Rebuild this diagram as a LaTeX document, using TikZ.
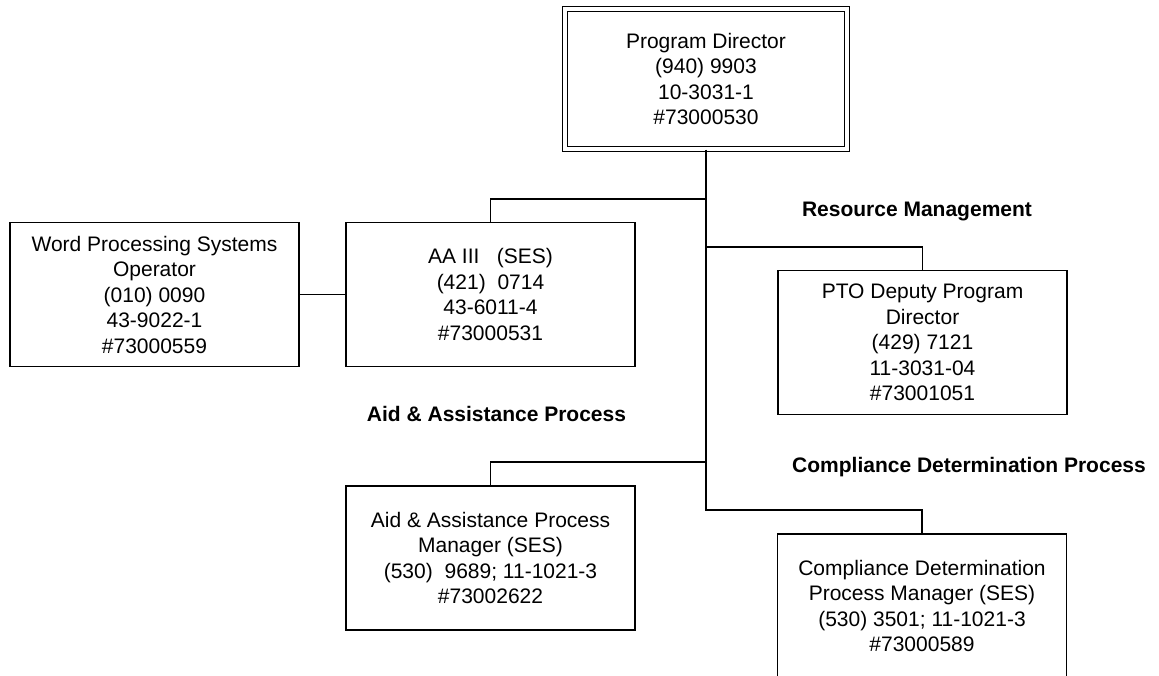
\documentclass[tikz,border=0pt]{standalone}
\usepackage{fontspec}
\setmainfont{Liberation Sans}
\begin{document}
\begin{tikzpicture}[x=1pt,y=-1pt,
  every node/.style={font=\fontsize{21}{25.5}\selectfont},
  post/.style={draw, line width=1.3pt, rectangle, align=center,
    minimum width=289pt, minimum height=144pt, inner sep=0pt},
  chief/.style={post, double, double distance=3.5pt, line width=1.2pt,
    minimum width=282pt, minimum height=140pt},
  area/.style={font=\fontsize{21}{25.5}\selectfont\bfseries, anchor=base, inner sep=0pt},
  link/.style={line width=1.3pt}]
\useasboundingbox (0,0) rectangle (1159,676);

% positions
\node[chief] (pd) at (706,79) {Program Director\\(940) 9903\\10-3031-1\\\#73000530};
\node[post] (wp) at (154.5,294.5) {Word Processing Systems\\Operator\\(010) 0090\\43-9022-1\\\#73000559};
\node[post] (aa) at (490.5,294.5) {AA III\hspace{0.83em}(SES)\\(421)\hspace{0.56em}0714\\43-6011-4\\\#73000531};
\node[post] (pto) at (922.5,342.5) {PTO Deputy Program\\Director\\(429) 7121\\11-3031-04\\\#73001051};
\node[post] (aid) at (490.5,558) {Aid \& Assistance Process\\Manager (SES)\\(530)\hspace{0.56em}9689; 11-1021-3\\\#73002622};
\node[post] (cd) at (922,606) {Compliance Determination\\Process Manager (SES)\\(530) 3501; 11-1021-3\\\#73000589};

% section headings
\node[area] (rm) at (917,217) {Resource Management};
\node[area] (aap) at (496.5,421) {Aid \& Assistance Process};
\node[area] (cdp) at (969,472) {Compliance Determination Process};

% branch points on the trunk
\coordinate (b1) at (706,199);
\coordinate (b2) at (706,247);
\coordinate (b3) at (706,462);
\coordinate (b4) at (706,510);

% connectors
\draw[link] (pd.south) -- (b4) -| (cd.north);
\draw[link] (aa.north) |- (b1);
\draw[link] (b2) -| (pto.north);
\draw[link] (b3) -| (aid.north);
\draw[link] (wp.east) -- (aa.west);
\end{tikzpicture}
\end{document}
